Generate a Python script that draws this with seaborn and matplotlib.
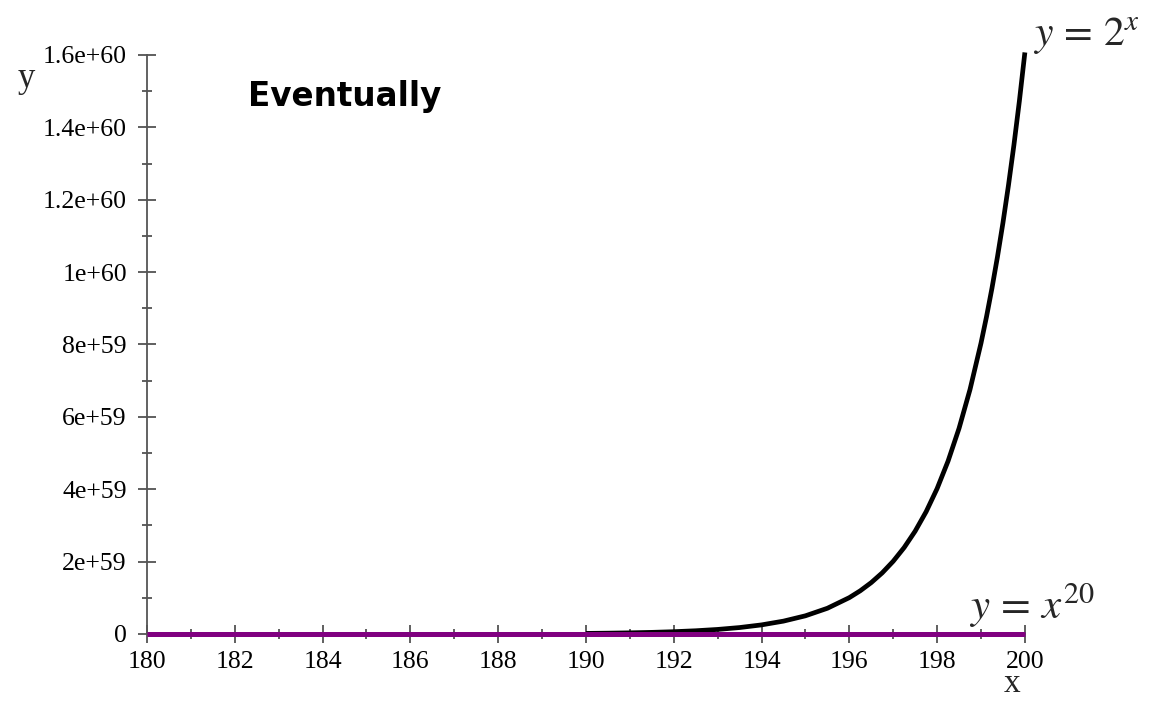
import matplotlib
matplotlib.use("Agg")
import matplotlib.pyplot as plt
import seaborn as sns
import pandas as pd
from matplotlib.ticker import FixedLocator, MultipleLocator

# Data (y in units of 1e59)
exp_x = [190, 190.5, 191, 191.5, 192, 192.5, 193, 193.5, 194, 194.5, 195, 195.5,
         196, 196.25, 196.5, 196.75, 197, 197.25, 197.5, 197.75, 198, 198.25,
         198.5, 198.75, 199, 199.125, 199.25, 199.375, 199.5, 199.625, 199.75, 199.875, 200]
exp_y = [0.0157, 0.0222, 0.0314, 0.0444, 0.0628, 0.0888, 0.1255, 0.1775, 0.251, 0.355,
         0.502, 0.710, 1.004, 1.194, 1.420, 1.689, 2.009, 2.389, 2.841, 3.378, 4.017,
         4.778, 5.682, 6.756, 8.035, 8.762, 9.555, 10.42, 11.36, 12.39, 13.51, 14.73, 16.07]
poly_x = [180, 185, 190, 195, 200]
poly_y = [1.27e-14, 2.3e-14, 3.8e-14, 6.4e-14, 1.05e-13]

y_ticks = [0, 2, 4, 6, 8, 10, 12, 14, 16]
y_tick_labels = ["0", "2e+59", "4e+59", "6e+59", "8e+59", "1e+60", "1.2e+60", "1.4e+60", "1.6e+60"]
x_ticks = [180, 182, 184, 186, 188, 190, 192, 194, 196, 198, 200]
x_tick_labels = [str(v) for v in x_ticks]

sns.set_theme(style="ticks")
plt.rcParams["font.family"] = ["Liberation Serif", "DejaVu Serif"]
plt.rcParams["mathtext.fontset"] = "stix"

fig = plt.figure(figsize=(11.62, 7.02), dpi=100)
ax = fig.add_axes([0.1265, 0.0969, 0.7555, 0.8248])

df_exp = pd.DataFrame({"x": exp_x, "y": exp_y})
df_poly = pd.DataFrame({"x": poly_x, "y": poly_y})

sns.lineplot(data=df_poly, x="x", y="y", ax=ax, color="#800080", linewidth=3.6,
             zorder=3, solid_capstyle="butt", clip_on=False)
sns.lineplot(data=df_exp, x="x", y="y", ax=ax, color="black", linewidth=3.4,
             zorder=2, solid_capstyle="butt", clip_on=False)

ax.set_xlim(180, 200)
ax.set_ylim(0, 16)
ax.xaxis.set_major_locator(FixedLocator(x_ticks))
ax.set_xticklabels(x_tick_labels)
ax.xaxis.set_minor_locator(MultipleLocator(1))
ax.yaxis.set_major_locator(FixedLocator(y_ticks))
ax.set_yticklabels(y_tick_labels)
ax.yaxis.set_minor_locator(MultipleLocator(1))

for side in ["top", "right"]:
    ax.spines[side].set_visible(False)
for side in ["left", "bottom"]:
    ax.spines[side].set_color("#555555")
    ax.spines[side].set_linewidth(1.3)

ax.tick_params(which="major", direction="inout", length=13, width=1.2, color="#444444",
               labelsize=18.5, labelcolor="black")
ax.tick_params(which="minor", direction="inout", length=7, width=1.2, color="#444444")
ax.tick_params(axis="y", which="major", pad=8)
ax.tick_params(axis="x", which="major", pad=6)

ax.set_xlabel("")
ax.set_ylabel("")
fig.text(0.0155, 0.888, "y", fontsize=25, ha="left", va="center")
fig.text(0.864, 0.004, "x", fontsize=24, ha="left", va="bottom")

fig.text(0.213, 0.863, "Eventually", fontsize=23.5, fontweight="bold",
         family="DejaVu Sans", ha="left", va="center", color="black")

fig.text(0.889, 0.948, r"$y\,=\,2^{x}$", fontsize=30, ha="left", va="center")
fig.text(0.834, 0.138, r"$y\,=\,x^{20}$", fontsize=31, ha="left", va="center")

fig.savefig("out.png", dpi=100, facecolor="white")
